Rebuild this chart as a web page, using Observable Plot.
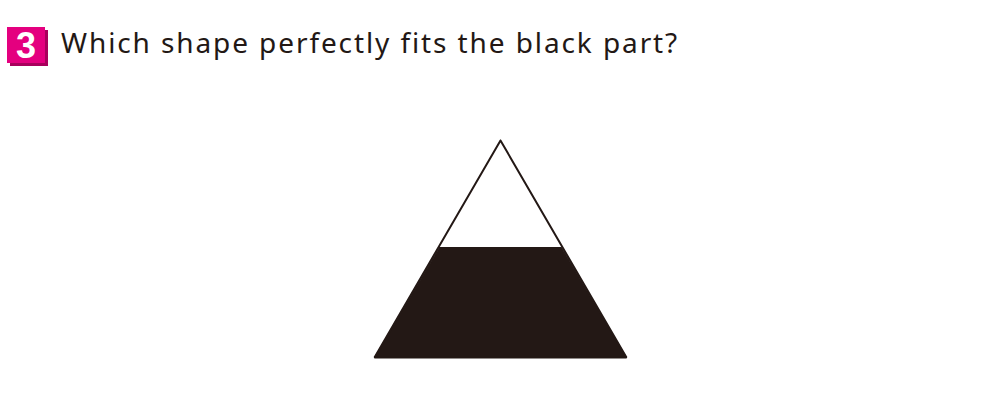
<!DOCTYPE html>
<html><head><meta charset="utf-8">
<script src="https://cdn.jsdelivr.net/npm/d3@7"></script>
<script src="https://cdn.jsdelivr.net/npm/@observablehq/plot@0.6"></script>
<style>
body{margin:0;background:#fff;font-family:"Noto Sans",sans-serif;}
#head{position:relative;height:90px;}
#badge{position:absolute;left:7px;top:27px;width:38px;height:36px;background:#e4007f;color:#fff;font:bold 36px/37px "Liberation Sans",Arial,sans-serif;text-align:center;box-shadow:3px 3px 0 #a8005c;}
#q{position:absolute;left:61px;top:23px;font-size:28px;color:#231815;letter-spacing:1.9px;}
</style></head>
<body>
<div id="head"><div id="badge">3</div><div id="q">Which shape perfectly fits the black part?</div></div>
<div id="chart"></div>
<script>
// outline of the whole triangle
let triX = [500, 374, 626, 500];
let triY = [140, 357, 357, 140];
// black lower part
let blackX = [439, 374, 626, 561, 439];
let blackY = [247, 357, 357, 247, 247];

let tri = triX.map((x, i) => ({x: x, y: triY[i]}));
let black = blackX.map((x, i) => ({x: x, y: blackY[i]}));

let plot = Plot.plot({
    width: 1000,
    height: 310,
    margin: 0,
    x: {domain: [0, 1000], axis: null},
    y: {domain: [90, 400], range: [0, 310], axis: null},
    marks: [
        Plot.line(black, {x: "x", y: "y", fill: "#231815", stroke: "#231815", strokeWidth: 1}),
        Plot.line(tri, {x: "x", y: "y", stroke: "#231815", strokeWidth: 2, strokeLinejoin: "miter"})
    ]
});
document.getElementById("chart").append(plot);
</script>
</body></html>
